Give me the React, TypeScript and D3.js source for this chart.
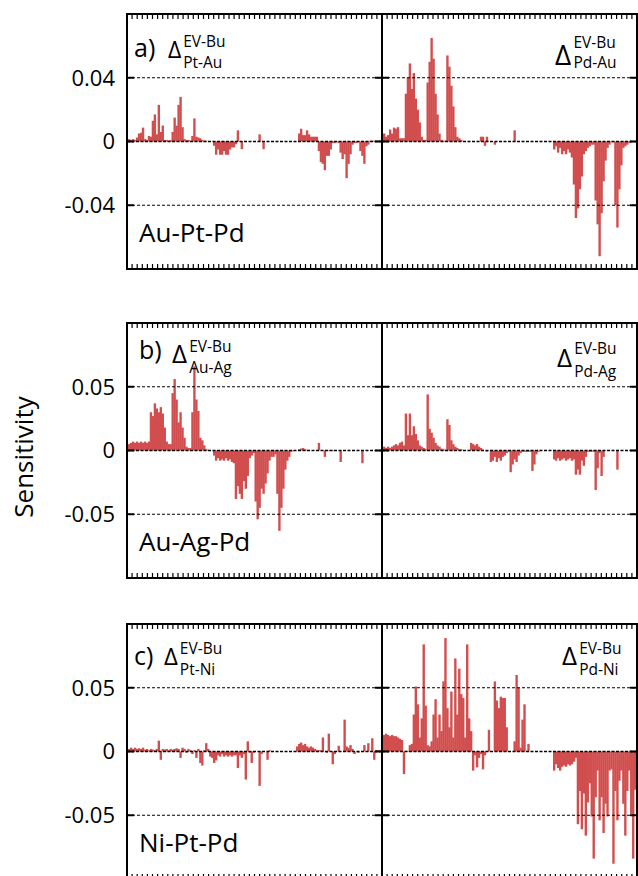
import React from "react";
import * as d3 from "d3";

// Sensitivity values, in units of 1e-3, one bar each
const ptAu = [1.5,1,1.5,1,2.5,5,5.5,8.7,1.5,1, 3.5,3,13,17,4.5,23,6,10,1,1, 0.5,1,6,15,10,23,28,9,1.5,1, 1,0.5,3.5,14.5,3,2.5,2,1,0.5,0.5,
  0,0,0,-2.7,-8.3,-5,-8.3,-8.3,-6,-8.3, -8.3,-5,-3.7,-3.7,-1.7,7,0,-4.8,0,0, 0,0,0,0,0,0,4.5,0,-4.8,0,
  0,0,0,0,0,0,0,0,0,0, 0,0,0,0,0,0,5,8,4,4, 7,4.5,3,3,3,3,-6,-13,-14,-18,
  -9,-9,-5,-1,-1,-0.5,-1,-7,-11,-8, -23,-14,-8,-2,-1,-1,-0.5,-6,-9,-14, -3,-2,0.5,0.5,0.5,0.5,0.5,0.5];
const pdAu = [5,3,4,7.5,5,8.7,8,9,2,2, 2,30,40,49,33,43,27,20,12,3, 1,1,37,50,65,52,30,17,5,1, 0.5,0.5,54,47,35,22,9,3,2,1,
  0,0,0,0,0,0,0,0,0,3, 3,-2.7,3,0,0,0,-2,0,0,0, 0,0,0,0,0,0,7,0,0,0,
  0,0,0,0,0,0,0,0,0,0, 0,0,0,0,0,0,-5,-3,-7,-4, -8,-6,-8,-5,-7,-10,-27,-48,-42,-30,
  -22,-8,-6,-4,-3,-2,-2,-37,-52,-72, -45,-25,-12,-4,-2,-0.5,-0.5,-40,-54,-30, -15,-4,-3,-2,-1,-0.5,0,0];
const auAg = [5,6,7,6,7,6,7,6,7,6, 7,30,27,37,33,30,34,29,18,7, 5,5,45,56,40,22,30,18,10,3, 2,2,30,66,40,31,10,8,4,1,
  0.5,0,0,-4,-8,-6,-8,-7,-8,-6, -8,-7,-9,-10,-38,-28,-34,-38,-24,-30, -20,-6,-4,-2,-40,-54,-45,-30,-34,-26,
  -18,-8,-5,-5,-3,-34,-63,-45,-30,-15, -8,-5,-1,-0.5,0,0,1,1.5,2,1, 0.5,0,0,0,0,0,6,0,0,-5,
  0,-0.5,0,-0.5,0,0,0,-9,0,0, 0,0,0,0,0,0,0,0,-10,0, 0,0,0,0,0,0,0,0];
const pdAg = [3,2,3,2,3,4,5,4,6,7, 4,29,12,29,12,19,13,8,4,3, 2,1,44,17,14,10,6,4,3,1.5, 1,0.5,24.5,20,8,5,3,2,1,1,
  0,0,0,0,6,5,4,5,3,2, 0.5,0,-1,0,-9,-8,-5,-9,-6,-8, -5,-4,-2,-1,-17,-11,-7,-9,-4,-2,
  -1,-1,-1,-1,-1,-16,-11,-3,-1,0, 0,0,0,0,0,0,-7,-8,-6,-8, -7,-6,-8,-7,-6,-8,-7,-19,-15,-19,
  -8,-12,-5,-1,-1,-1,-1,-31,-14,-2, -20,-5,0,0,0,0,0,0,-15,0, 0,0,0,0,0,0,0,0];
const ptNi = [2,3,2,3,2,2.5,2,3,1.5,2, 1,2,1.5,1,2,8.5,-6.5,2,1.5,2, 1,2,1.5,2,2.5,2,-5,3,2,-1, 2,1,-2,1,-5,2,-9,-11,1,6.5,
  2,-4,-5,-9,-7,-3,-4,-2,-4,-3, -4,-3,-4,-3,-3,-13,-3,-5,-2,-22, 8,-1,-9,-1,0,0,-27,-2,0,0,
  -6.5,1,0,0,0,0,0,0,0,0, 0,0,0,0,0,4,6,7,5,6, 4,3,4,3,2,1,1,1,11,0,
  -1,14,0,-10,-2,0,4.5,0,0,25, 4,3,5,2,-2,0,-1,0,0,5, 0,6.5,0,10.4,-6.5,1,1,1];
const pdNi = [13,14,13,12,13,12,12,11,10,9, -17.7,0.5,0.5,5,6,29,51,37,11,26, 84,36,5,4,8,29,41,11,29,16, 55,89,34,19,47,11,73,29,65,45,
  42,11,84,26,16,-15,-3,-12.5,-5,-2, -14,-3,0,17,0,0,55,40,34,43, 42,42,19,0,0,0,8,60,50,3,
  25,37,0,6,0,0,0,0,0,0, 0,0,0,0,0,0,-15,-10,-13,-15, -12,-11,-12,-10,-11,-10,-8,-5,-57,-31,
  -61,-33,-66,-40,-25,-51,-84,-36,-15,-54, -36,-64,-41,-51,-15,-14,-88,-31,-54,-23, -15,-41,-66,-31,-15,-49,-84,-30];

const domainA = [-0.08, 0.08];
const ticksA = [-0.04, 0, 0.04];
const domainB = [-0.1, 0.1];
const ticksB = [-0.05, 0, 0.05];

const rowNames = ["Au-Pt-Pd", "Au-Ag-Pd", "Ni-Pt-Pd"];
const rowLetters = ["a)", "b)", "c)"];
const superText = "EV-Bu";
const subTexts = [["Pt-Au", "Pd-Au"], ["Au-Ag", "Pd-Ag"], ["Pt-Ni", "Pd-Ni"]];
const seriesGrid = [[ptAu, pdAu], [auAg, pdAg], [ptNi, pdNi]];
const rowDomains = [domainA, domainB, domainB];
const rowTicks = [ticksA, ticksB, ticksB];

const W = 638, H = 876;
const colX = [[127, 382], [382, 637]];
const rowY = [[14, 269], [323, 578], [624, 879]];
// label layout per panel: [deltaX, deltaBaseline, supBaseline, subBaseline, deltaSize]
const labelPos = [
  [[168, 58, 47, 68, 23], [555, 65, 48, 68, 28]],
  [[172, 363, 352, 373, 26], [557, 367, 354, 377, 26]],
  [[164, 665, 654, 675, 24], [562, 665, 654, 675, 26]],
];
const letterPos = [[134, 57], [139, 359], [134, 665]];

const FONT = "'Open Sans', 'Noto Sans', sans-serif";
const RED = "#d24e4e";

function Panel({ r, c }) {
  const [x0, x1] = colX[c];
  const [y0, y1] = rowY[r];
  const vals = seriesGrid[r][c].map((v) => v / 1000);
  const x = d3.scaleBand().domain(d3.range(vals.length)).range([x0 + 1, x1 - 1]).paddingInner(0);
  const y = d3.scaleLinear().domain(rowDomains[r]).range([y1, y0]);
  const minor = d3.scaleLinear().domain([0, 50]).range([x0, x1]);
  const clipId = `clip-${r}-${c}`;
  const bw = x.bandwidth() + 0.4;
  return (
    <g>
      <defs>
        <clipPath id={clipId}>
          <rect x={x0} y={y0} width={x1 - x0} height={y1 - y0} />
        </clipPath>
      </defs>
      <g clipPath={`url(#${clipId})`}>
        {vals.map((v, i) => (
          <rect key={i} x={x(i)} width={bw} y={y(Math.max(0, v))}
            height={Math.abs(y(v) - y(0))} fill={RED} />
        ))}
      </g>
      {rowTicks[r].map((t) => (
        <line key={"g" + t} x1={x0} x2={x1} y1={y(t)} y2={y(t)} stroke="#000"
          strokeWidth={t === 0 ? 1.5 : 1} strokeDasharray={t === 0 ? "3,1.5" : "3,2"} />
      ))}
      {rowTicks[r].map((t) => (
        <g key={"t" + t}>
          <line x1={x0} x2={x0 + 7} y1={y(t)} y2={y(t)} stroke="#000" strokeWidth={2} />
          <line x1={x1 - 7} x2={x1} y1={y(t)} y2={y(t)} stroke="#000" strokeWidth={2} />
        </g>
      ))}
      {d3.range(0, 51).map((k) => (
        <g key={"m" + k}>
          <line x1={minor(k)} x2={minor(k)} y1={y0} y2={y0 + 5} stroke="#000" strokeWidth={1.2} />
          <line x1={minor(k)} x2={minor(k)} y1={y1 - 5} y2={y1} stroke="#000" strokeWidth={1.2} />
        </g>
      ))}
      <rect x={x0} y={y0} width={x1 - x0} height={y1 - y0} fill="none" stroke="#000" strokeWidth={2} />
      {c === 0 && rowTicks[r].map((t) => (
        <text key={"l" + t} x={115} y={y(t)} dy="0.36em" textAnchor="end" fontSize={22} fontFamily={FONT}>{String(t)}</text>
      ))}
      {c === 0 && (
        <text x={letterPos[r][0]} y={letterPos[r][1]} fontSize={25} fontFamily={FONT}>{rowLetters[r]}</text>
      )}
      {c === 0 && (
        <text x={139} y={y0 + 228} fontSize={26} fontFamily={FONT}>{rowNames[r]}</text>
      )}
      {(() => {
        const [dx, db, sb, ub, ds] = labelPos[r][c];
        const sx = dx + ds * 0.66;
        return (
          <g fontFamily={FONT}>
            <text x={dx} y={db} fontSize={ds}>Δ</text>
            <text x={sx} y={sb} fontSize={15.5}>{superText}</text>
            <text x={sx} y={ub} fontSize={15.5}>{subTexts[r][c]}</text>
          </g>
        );
      })()}
    </g>
  );
}

export default function App() {
  return (
    <svg width={W} height={H} style={{ position: "absolute", left: 0, top: 0, background: "#fff" }}>
      <rect width={W} height={H} fill="#fff" />
      {[0, 1, 2].map((r) => [0, 1].map((c) => <Panel key={`${r}-${c}`} r={r} c={c} />))}
      <text transform="translate(33,457) rotate(-90)" textAnchor="middle" fontSize={26} fontFamily={FONT}>Sensitivity</text>
    </svg>
  );
}
